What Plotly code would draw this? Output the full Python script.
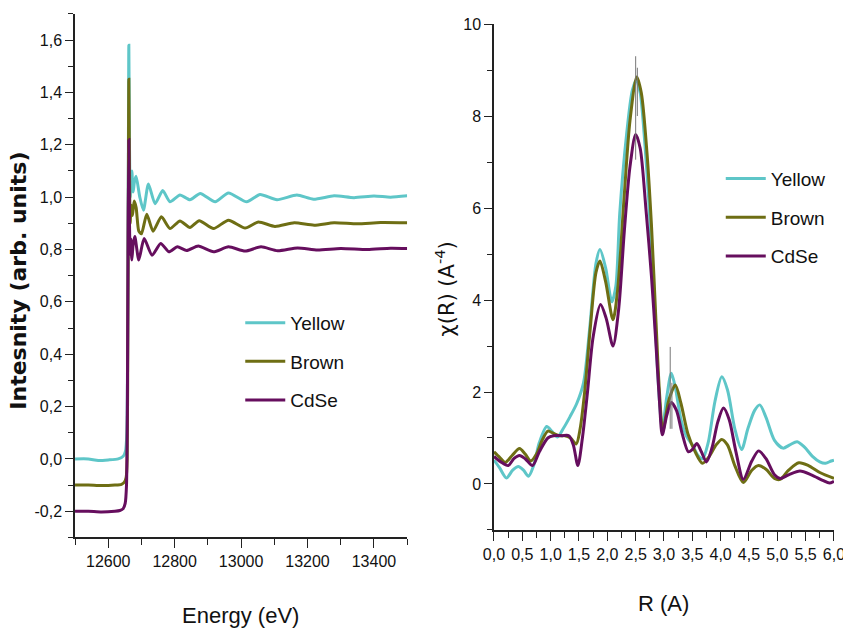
import plotly.graph_objects as go

# ---------------- data: left panel (XANES) ----------------
yellow_E = [12500, 12540, 12570, 12600, 12630, 12645, 12652, 12656, 12659, 12661, 12662, 12664, 12666, 12668,
            12671, 12675, 12679, 12684, 12695, 12706, 12721, 12741, 12764, 12786, 12816, 12846, 12877, 12922,
            12962, 13017, 13057, 13108, 13168, 13218, 13280, 13340, 13400, 13450, 13500]
yellow_I = [0.0, 0.0, -0.006, -0.004, 0.0, 0.01, 0.03, 0.1, 0.6, 1.3, 1.58, 1.2, 1.0, 1.06,
            1.10, 1.02, 1.06, 1.08, 1.0, 0.95, 1.05, 0.975, 1.025, 0.982, 1.008, 0.99, 1.014, 0.982,
            1.016, 0.982, 1.01, 0.99, 1.008, 0.992, 1.005, 0.998, 1.004, 1.0, 1.005]

brown_E = [12500, 12540, 12580, 12620, 12640, 12648, 12654, 12657, 12659, 12661, 12662, 12664, 12666, 12669,
           12673, 12678, 12684, 12692, 12700, 12716, 12735, 12760, 12786, 12816, 12846, 12874, 12917, 12962,
           13012, 13052, 13102, 13160, 13220, 13280, 13350, 13420, 13500]
brown_I = [-0.1, -0.1, -0.102, -0.1, -0.097, -0.09, -0.07, 0.0, 0.5, 1.2, 1.45, 1.1, 0.9, 0.97,
           0.93, 0.985, 0.96, 0.87, 0.86, 0.935, 0.87, 0.925, 0.88, 0.909, 0.884, 0.91, 0.88, 0.912,
           0.882, 0.905, 0.888, 0.902, 0.893, 0.902, 0.898, 0.903, 0.902]

cdse_E = [12500, 12540, 12580, 12620, 12635, 12645, 12651, 12655, 12658, 12660, 12662, 12664, 12666, 12668,
          12671, 12675, 12680, 12692, 12708, 12732, 12758, 12783, 12808, 12836, 12871, 12917, 12962, 13012,
          13060, 13110, 13170, 13230, 13300, 13380, 13450, 13500]
cdse_I = [-0.2, -0.2, -0.203, -0.2, -0.197, -0.19, -0.17, -0.1, 0.3, 0.9, 1.22, 0.9, 0.78, 0.84,
          0.76, 0.82, 0.85, 0.76, 0.842, 0.778, 0.823, 0.791, 0.81, 0.796, 0.813, 0.791, 0.81, 0.794,
          0.81, 0.795, 0.806, 0.798, 0.804, 0.8, 0.805, 0.804]

# ---------------- data: right panel (Fourier transform) ----------------
yellow_R = [0.0, 0.1, 0.22, 0.33, 0.43, 0.52, 0.61, 0.7, 0.8, 0.93, 1.02, 1.12, 1.22, 1.34, 1.46, 1.58, 1.69,
            1.8, 1.87, 1.97, 2.08, 2.15, 2.22, 2.34, 2.44, 2.51, 2.58, 2.65, 2.73, 2.84, 2.92, 2.97, 3.05,
            3.13, 3.2, 3.3, 3.4, 3.5, 3.6, 3.68, 3.78, 3.9, 4.02, 4.12, 4.25, 4.37, 4.48, 4.6, 4.69, 4.8,
            4.95, 5.1, 5.22, 5.35, 5.48, 5.62, 5.75, 5.85, 5.95, 6.0]
yellow_X = [0.52, 0.35, 0.13, 0.3, 0.38, 0.3, 0.17, 0.4, 0.9, 1.25, 1.15, 1.02, 1.2, 1.46, 1.75, 2.2, 3.4,
            4.8, 5.1, 4.7, 3.96, 4.3, 5.9, 7.6, 8.55, 8.78, 8.5, 7.6, 6.2, 3.6, 1.8, 1.2, 1.9,
            2.41, 2.1, 1.4, 1.03, 0.85, 0.62, 0.55, 0.9, 1.8, 2.33, 2.05, 1.2, 0.75, 1.2, 1.6, 1.72, 1.45,
            0.95, 0.78, 0.85, 0.92, 0.8, 0.6, 0.48, 0.45, 0.5, 0.52]

brown_R = [0.0, 0.1, 0.2, 0.32, 0.45, 0.55, 0.65, 0.75, 0.85, 0.95, 1.05, 1.15, 1.25, 1.35, 1.45, 1.52, 1.6,
           1.7, 1.8, 1.87, 1.97, 2.1, 2.18, 2.3, 2.4, 2.52, 2.6, 2.7, 2.78, 2.86, 2.92, 2.98, 3.08, 3.2,
           3.3, 3.42, 3.55, 3.68, 3.8, 3.92, 4.02, 4.12, 4.25, 4.4, 4.55, 4.67, 4.8, 4.95, 5.05, 5.2, 5.38,
           5.55, 5.75, 6.0]
brown_X = [0.7, 0.58, 0.47, 0.62, 0.77, 0.65, 0.5, 0.65, 0.95, 1.15, 1.1, 1.05, 1.05, 1.0, 0.87, 1.2, 2.0,
           3.4, 4.6, 4.85, 4.4, 3.57, 4.2, 6.3, 7.9, 8.85, 8.5, 7.2, 5.6, 3.5, 2.0, 1.15, 1.8, 2.15,
           1.75, 1.1, 0.7, 0.45, 0.6, 0.85, 0.97, 0.85, 0.4, 0.03, 0.3, 0.4, 0.32, 0.12, 0.1, 0.3, 0.46,
           0.4, 0.25, 0.12]

cdse_R = [0.0, 0.12, 0.25, 0.35, 0.45, 0.55, 0.68, 0.8, 0.95, 1.05, 1.2, 1.32, 1.4, 1.48, 1.56, 1.65, 1.75,
          1.88, 1.98, 2.1, 2.2, 2.3, 2.4, 2.5, 2.58, 2.68, 2.78, 2.86, 2.92, 2.97, 3.05, 3.13, 3.22, 3.32,
          3.43, 3.5, 3.58, 3.66, 3.75, 3.85, 3.95, 4.05, 4.15, 4.27, 4.4, 4.55, 4.67, 4.8, 4.95, 5.05, 5.2,
          5.4, 5.6, 5.8, 5.92, 6.0]
cdse_X = [0.6, 0.48, 0.4, 0.55, 0.62, 0.55, 0.4, 0.7, 1.0, 1.05, 1.05, 1.05, 0.85, 0.4, 1.0, 2.0, 3.2,
          3.9, 3.6, 3.0, 3.8, 5.5, 6.9, 7.6, 7.3, 6.0, 4.5, 3.0, 1.8, 1.07, 1.5, 1.77, 1.6, 1.1,
          0.7, 0.75, 0.88, 0.7, 0.48, 0.8, 1.35, 1.65, 1.4, 0.7, 0.1, 0.5, 0.72, 0.55, 0.2, 0.12, 0.2,
          0.28, 0.2, 0.08, 0.02, 0.06]

# thin grey marker lines (vertical bars)
bar_R = [[2.5, 2.5], [2.53, 2.53], [3.11, 3.11], [3.14, 3.14]]
bar_X = [[7.05, 9.3], [8.0, 9.05], [1.2, 2.98], [1.2, 2.2]]

# ---------------- tick labels ----------------
lx_vals = [12600, 12800, 13000, 13200, 13400]
lx_text = ["12600", "12800", "13000", "13200", "13400"]
ly_vals = [-0.2, 0.0, 0.2, 0.4, 0.6, 0.8, 1.0, 1.2, 1.4, 1.6]
ly_text = ["-0,2", "0,0", "0,2", "0,4", "0,6", "0,8", "1,0", "1,2", "1,4", "1,6"]
rx_vals = [0.0, 0.5, 1.0, 1.5, 2.0, 2.5, 3.0, 3.5, 4.0, 4.5, 5.0, 5.5, 6.0]
rx_text = ["0,0", "0,5", "1,0", "1,5", "2,0", "2,5", "3,0", "3,5", "4,0", "4,5", "5,0", "5,5", "6,0"]
ry_vals = [0, 2, 4, 6, 8, 10]
ry_text = ["0", "2", "4", "6", "8", "10"]

names = ["Yellow", "Brown", "CdSe"]
colors = ["#5EC6C8", "#6E6E14", "#660E5E"]

NARROW = "Liberation Sans Narrow, Arial Narrow, Liberation Sans, Arial, sans-serif"
WIDE = "DejaVu Sans, Liberation Sans, sans-serif"

fig = go.Figure()

left = [(yellow_E, yellow_I), (brown_E, brown_I), (cdse_E, cdse_I)]
for (xs, ys), n, c in zip(left, names, colors):
    fig.add_trace(go.Scatter(x=xs, y=ys, name=n, mode="lines",
                             line=dict(color=c, width=3, shape="spline", smoothing=0.6),
                             xaxis="x", yaxis="y", legend="legend", legendgroup="L" + n))

right = [(yellow_R, yellow_X), (brown_R, brown_X), (cdse_R, cdse_X)]
for (xs, ys), n, c in zip(right, names, colors):
    fig.add_trace(go.Scatter(x=xs, y=ys, name=n, mode="lines",
                             line=dict(color=c, width=3, shape="spline", smoothing=0.8),
                             xaxis="x2", yaxis="y2", legend="legend2", legendgroup="R" + n))

for bx, by in zip(bar_R, bar_X):
    fig.add_trace(go.Scatter(x=bx, y=by, mode="lines", line=dict(color="#777777", width=1),
                             xaxis="x2", yaxis="y2", showlegend=False, hoverinfo="skip"))

axis_common = dict(showline=True, linecolor="#222222", linewidth=1.5, ticks="outside",
                   tickcolor="#222222", showgrid=False, zeroline=False,
                   tickfont=dict(family=NARROW, size=16, color="#111111"), automargin=False,
                   ticklabeloverflow="allow")

fig.update_layout(
    width=843, height=629, margin=dict(l=0, r=0, t=0, b=0),
    paper_bgcolor="white", plot_bgcolor="white", showlegend=True,
    xaxis=dict(domain=[0.089, 0.483], range=[12500, 13500], anchor="y",
               tickmode="array", tickvals=lx_vals, ticktext=lx_text, ticklen=9,
               minor=dict(tickmode="linear", tick0=12500, dtick=100, ticklen=6, ticks="outside",
                          tickcolor="#222222"),
               **axis_common),
    yaxis=dict(domain=[0.1456, 0.9779], range=[-0.3, 1.7], anchor="x",
               tickmode="array", tickvals=ly_vals, ticktext=ly_text, ticklen=8,
               minor=dict(tickmode="linear", tick0=-0.3, dtick=0.1, ticklen=5, ticks="outside",
                          tickcolor="#222222"),
               **axis_common),
    xaxis2=dict(domain=[0.586, 0.9893], range=[0, 6], anchor="y2",
                tickmode="array", tickvals=rx_vals, ticktext=rx_text, ticklen=9,
                minor=dict(tickmode="linear", tick0=0, dtick=0.25, ticklen=6, ticks="outside",
                           tickcolor="#222222"),
                **axis_common),
    yaxis2=dict(domain=[0.1574, 0.9618], range=[-1, 10], anchor="x2",
                tickmode="array", tickvals=ry_vals, ticktext=ry_text, ticklen=8,
                minor=dict(tickmode="linear", tick0=-1, dtick=1, ticklen=5, ticks="outside",
                           tickcolor="#222222"),
                **axis_common),
    legend=dict(x=0.285, y=0.517, xanchor="left", yanchor="top", bgcolor="rgba(0,0,0,0)",
                font=dict(family=NARROW, size=19, color="#111111"), tracegroupgap=11,
                itemwidth=40),
    legend2=dict(x=0.855, y=0.746, xanchor="left", yanchor="top", bgcolor="rgba(0,0,0,0)",
                 font=dict(family=NARROW, size=19, color="#111111"), tracegroupgap=11,
                 itemwidth=40),
    annotations=[
        dict(text="<b>Intesnity (arb. units)</b>", xref="paper", yref="paper", x=0.022, y=0.553,
             textangle=-90, showarrow=False, xanchor="center", yanchor="middle",
             font=dict(family=WIDE, size=22, color="#111111")),
        dict(text="Energy (eV)", xref="paper", yref="paper", x=0.285, y=0.022,
             showarrow=False, xanchor="center", yanchor="middle",
             font=dict(family=NARROW, size=22, color="#111111")),
        dict(text="χ(R) (A<sup>-4</sup>)", xref="paper", yref="paper", x=0.528, y=0.54,
             textangle=-90, showarrow=False, xanchor="center", yanchor="middle",
             font=dict(family=WIDE, size=21, color="#111111")),
        dict(text="R (A)", xref="paper", yref="paper", x=0.787, y=0.041,
             showarrow=False, xanchor="center", yanchor="middle",
             font=dict(family=NARROW, size=22, color="#111111")),
    ],
)

fig.write_html("out.html", config={"displayModeBar": False},
               post_script="document.body.style.margin='0';document.body.style.padding='0';")
